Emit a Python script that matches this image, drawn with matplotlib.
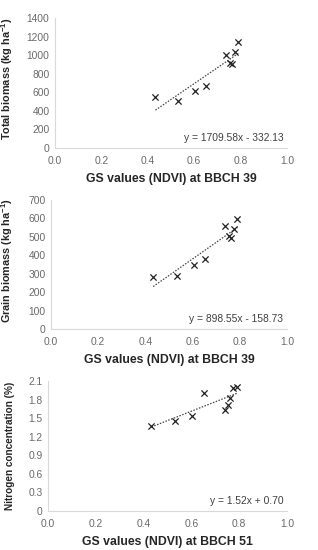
import numpy as np
import matplotlib.pyplot as plt

plt.rcParams['font.family'] = ['Liberation Sans', 'DejaVu Sans']
plt.rcParams['mathtext.fontset'] = 'custom'
plt.rcParams['mathtext.rm'] = 'Liberation Sans'
plt.rcParams['mathtext.bf'] = 'Liberation Sans:bold'

# GS values (NDVI)
ndvi = [0.433, 0.532, 0.605, 0.653, 0.739, 0.753, 0.763, 0.776, 0.790]
ndvi_51 = [0.433, 0.532, 0.603, 0.651, 0.740, 0.755, 0.762, 0.776, 0.790]

total_biomass = [545, 502, 610, 671, 1003, 920, 902, 1032, 1144]
grain_biomass = [283, 290, 347, 379, 560, 507, 496, 545, 596]
nitrogen = [1.37, 1.45, 1.54, 1.90, 1.63, 1.72, 1.82, 1.98, 2.00]

# fitted lines (slope, intercept)
fit_total = (1709.58, -332.13)
fit_grain = (898.55, -158.73)
fit_nitrogen = (1.52, 0.70)

eq_total = 'y = 1709.58x - 332.13'
eq_grain = 'y = 898.55x - 158.73'
eq_nitrogen = 'y = 1.52x + 0.70'

yticks_total = [0, 200, 400, 600, 800, 1000, 1200, 1400]
yticks_grain = [0, 100, 200, 300, 400, 500, 600, 700]
yticks_nitrogen = [0, 0.3, 0.6, 0.9, 1.2, 1.5, 1.8, 2.1]
ylabels_nitrogen = ['0', '0.3', '0.6', '0.9', '1.2', '1.5', '1.8', '2.1']
xticks = [0.0, 0.2, 0.4, 0.6, 0.8, 1.0]

W, H = 318, 550
fig = plt.figure(figsize=(W / 100, H / 100), dpi=100)

def make_axes(left, top, bottom, right=287):
    return fig.add_axes([left / W, 1 - bottom / H, (right - left) / W, (bottom - top) / H])

panels = [
    (make_axes(55, 18, 148), ndvi, total_biomass, fit_total, eq_total,
     yticks_total, [str(v) for v in yticks_total],
     r'Total biomass (kg ha$^{\mathbf{-1}}$)', 7.8, 0.53, 'GS values (NDVI) at BBCH 39'),
    (make_axes(51, 200, 329), ndvi, grain_biomass, fit_grain, eq_grain,
     yticks_grain, [str(v) for v in yticks_grain],
     r'Grain biomass (kg ha$^{\mathbf{-1}}$)', 7.8, 0.53, 'GS values (NDVI) at BBCH 39'),
    (make_axes(48, 381, 511), ndvi_51, nitrogen, fit_nitrogen, eq_nitrogen,
     yticks_nitrogen, ylabels_nitrogen,
     'Nitrogen concentration (%)', 7.2, 0.5, 'GS values (NDVI) at BBCH 51'),
]

tick_color = '#6a6a6a'
for ax, x, y, fit, eq, yt, ytl, ylab, ysize, ypos, xlab in panels:
    x = np.array(x)
    ax.scatter(x, y, marker='x', color='#222222', s=20, linewidths=0.9, zorder=3)
    xs = np.array([x.min(), x.max()])
    ax.plot(xs, fit[0] * xs + fit[1], linestyle=(0, (1.2, 1.2)), color='#444444', lw=0.9)
    ax.set_xlim(0, 1)
    ax.set_ylim(yt[0], yt[-1])
    ax.set_xticks(xticks)
    ax.set_xticklabels(['%.1f' % v for v in xticks])
    ax.set_yticks(yt)
    ax.set_yticklabels(ytl)
    ax.tick_params(length=0, labelsize=7.4, colors=tick_color)
    ax.tick_params(axis='x', pad=6)
    ax.tick_params(axis='y', pad=4)
    for s in ['top', 'right']:
        ax.spines[s].set_visible(False)
    for s in ['left', 'bottom']:
        ax.spines[s].set_color('#d9d9d9')
        ax.spines[s].set_linewidth(0.8)
    ax.set_xlabel(xlab, fontsize=8.8, fontweight='bold', color='#262626', labelpad=5)
    ax.set_ylabel(ylab, fontsize=ysize, fontweight='bold', color='#262626')
    left_px = ax.get_position().x0 * W
    ax.yaxis.set_label_coords((15 - left_px) / (ax.get_position().width * W), ypos)
    ax.text(0.985, 0.075, eq, transform=ax.transAxes, ha='right', va='center',
            fontsize=7.4, color='#404040')

fig.savefig('out.png', dpi=100, facecolor='white')
